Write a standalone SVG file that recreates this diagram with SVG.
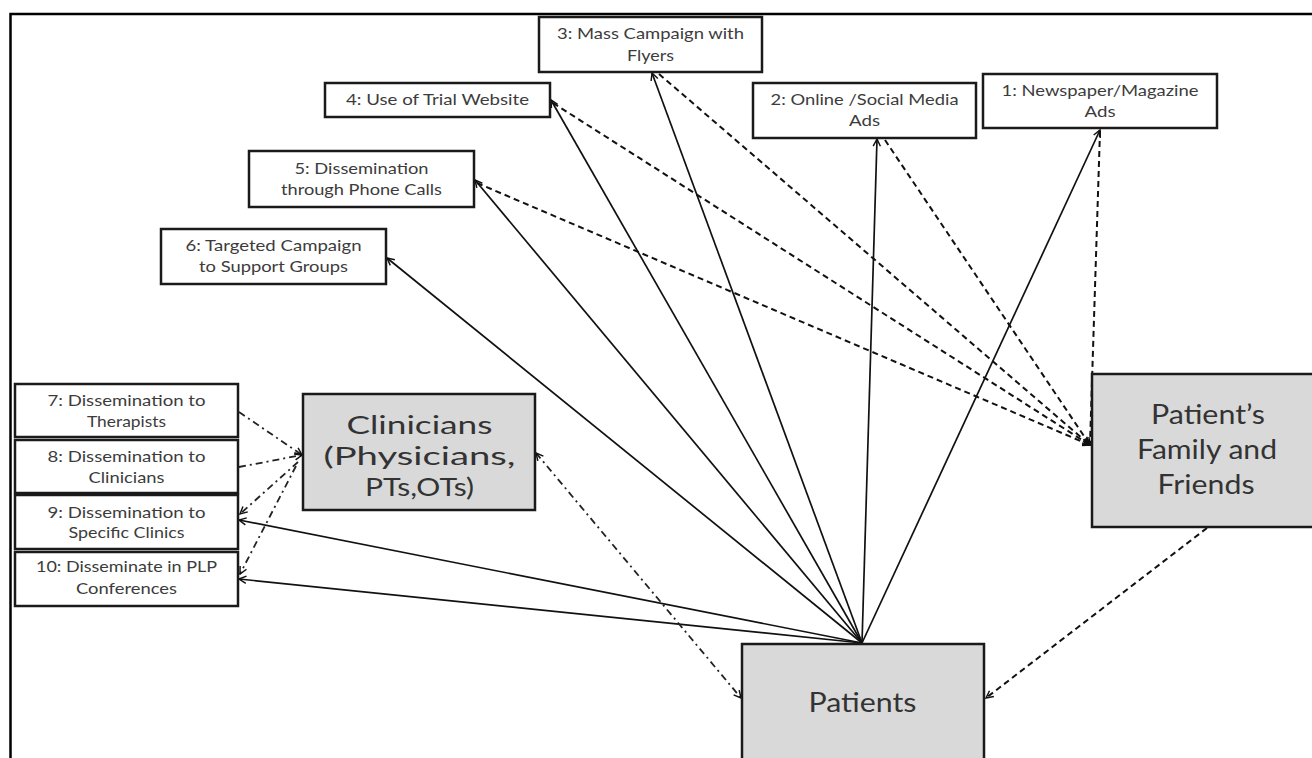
<svg xmlns="http://www.w3.org/2000/svg" width="1312" height="758" viewBox="0 0 1312 758">
<defs>
<style>
.frame{fill:none;stroke:#000;stroke-width:2.5}
.box{fill:#fff;stroke:#1a1a1a;stroke-width:2.5}
.gbox{fill:#d9d9d9;stroke:#1a1a1a;stroke-width:2.5}
.t{font-family:Lato,"Open Sans","Liberation Sans",sans-serif;font-size:16px;fill:#3c3c3c;text-anchor:middle}
.T{font-family:Lato,"Open Sans","Liberation Sans",sans-serif;font-size:27px;fill:#333;text-anchor:middle}
.Tc{font-size:25.5px}
.solid{fill:none;stroke:#111;stroke-width:1.7}
.dash{fill:none;stroke:#111;stroke-width:2;stroke-dasharray:6 4}
.dd{fill:none;stroke:#222;stroke-width:1.8;stroke-dasharray:7 4 2 4}
</style>
<marker id="ah" viewBox="0 0 10 10" refX="9" refY="5" markerWidth="9" markerHeight="9" markerUnits="userSpaceOnUse" orient="auto-start-reverse">
<path d="M1,1 L9,5 L1,9" fill="none" stroke="#111" stroke-width="1.6"/>
</marker>
</defs>
<rect class="frame" x="10.5" y="14" width="1320" height="780"/>

<g id="connectors">
<line class="solid" x1="862" y1="643" x2="1100" y2="130" marker-end="url(#ah)"/>
<line class="solid" x1="862" y1="643" x2="877" y2="139" marker-end="url(#ah)"/>
<line class="solid" x1="862" y1="643" x2="652" y2="73" marker-end="url(#ah)"/>
<line class="solid" x1="862" y1="643" x2="551" y2="100" marker-end="url(#ah)"/>
<line class="solid" x1="862" y1="643" x2="475" y2="180" marker-end="url(#ah)"/>
<line class="solid" x1="862" y1="643" x2="387" y2="258" marker-end="url(#ah)"/>
<line class="solid" x1="862" y1="643" x2="239" y2="520" marker-end="url(#ah)"/>
<line class="solid" x1="862" y1="643" x2="239" y2="579" marker-end="url(#ah)"/>
<line class="dash" x1="1100" y1="131" x2="1090" y2="444" marker-end="url(#ah)"/>
<line class="dash" x1="885" y1="140" x2="1090" y2="445" marker-end="url(#ah)"/>
<line class="dash" x1="659" y1="74" x2="1090" y2="445" marker-end="url(#ah)"/>
<line class="dash" x1="553" y1="103" x2="1090" y2="445" marker-end="url(#ah)"/>
<line class="dash" x1="477" y1="183" x2="1090" y2="445" marker-end="url(#ah)"/>
<line class="dash" x1="1207" y1="528" x2="986" y2="698" marker-end="url(#ah)"/>
<line class="dd" x1="536" y1="453" x2="741" y2="698" marker-start="url(#ah)" marker-end="url(#ah)"/>
<line class="dd" x1="239" y1="412" x2="302" y2="455" marker-end="url(#ah)"/>
<line class="dd" x1="239" y1="467" x2="302" y2="455" marker-end="url(#ah)"/>
<line class="dd" x1="298" y1="462" x2="240" y2="514" marker-end="url(#ah)"/>
<line class="dd" x1="296" y1="466" x2="240" y2="574" marker-end="url(#ah)"/>
</g>

<g id="n1">
<rect class="box" x="983" y="74" width="234" height="54"/>
<text class="t" x="1100" y="96" textLength="197" lengthAdjust="spacingAndGlyphs">1: Newspaper/Magazine</text>
<text class="t" x="1100" y="117" textLength="31" lengthAdjust="spacingAndGlyphs">Ads</text>
</g>
<g id="n2">
<rect class="box" x="753" y="83" width="223" height="55"/>
<text class="t" x="864.5" y="105" textLength="188" lengthAdjust="spacingAndGlyphs">2: Online /Social Media</text>
<text class="t" x="864.5" y="126" textLength="31" lengthAdjust="spacingAndGlyphs">Ads</text>
</g>
<g id="n3">
<rect class="box" x="539" y="17" width="223" height="55"/>
<text class="t" x="650.5" y="39" textLength="187" lengthAdjust="spacingAndGlyphs">3: Mass Campaign with</text>
<text class="t" x="650.5" y="61" textLength="47" lengthAdjust="spacingAndGlyphs">Flyers</text>
</g>
<g id="n4">
<rect class="box" x="325" y="83" width="225" height="34"/>
<text class="t" x="437.5" y="105" textLength="183" lengthAdjust="spacingAndGlyphs">4: Use of Trial Website</text>
</g>
<g id="n5">
<rect class="box" x="249" y="151" width="225" height="56"/>
<text class="t" x="361.5" y="174" textLength="134" lengthAdjust="spacingAndGlyphs">5: Dissemination</text>
<text class="t" x="361.5" y="195" textLength="161" lengthAdjust="spacingAndGlyphs">through Phone Calls</text>
</g>
<g id="n6">
<rect class="box" x="161" y="229" width="225" height="55"/>
<text class="t" x="273.5" y="251" textLength="176" lengthAdjust="spacingAndGlyphs">6: Targeted Campaign</text>
<text class="t" x="273.5" y="272" textLength="149" lengthAdjust="spacingAndGlyphs">to Support Groups</text>
</g>
<g id="n7">
<rect class="box" x="15" y="384" width="223" height="53"/>
<text class="t" x="126.5" y="406" textLength="158" lengthAdjust="spacingAndGlyphs">7: Dissemination to</text>
<text class="t" x="126.5" y="427" textLength="79" lengthAdjust="spacingAndGlyphs">Therapists</text>
</g>
<g id="n8">
<rect class="box" x="15" y="440" width="223" height="53"/>
<text class="t" x="126.5" y="462" textLength="158" lengthAdjust="spacingAndGlyphs">8: Dissemination to</text>
<text class="t" x="126.5" y="483" textLength="76" lengthAdjust="spacingAndGlyphs">Clinicians</text>
</g>
<g id="n9">
<rect class="box" x="15" y="495" width="223" height="54"/>
<text class="t" x="126.5" y="518" textLength="158" lengthAdjust="spacingAndGlyphs">9: Dissemination to</text>
<text class="t" x="126.5" y="538" textLength="116" lengthAdjust="spacingAndGlyphs">Specific Clinics</text>
</g>
<g id="n10">
<rect class="box" x="15" y="552" width="223" height="54"/>
<text class="t" x="126.5" y="572" textLength="181" lengthAdjust="spacingAndGlyphs">10: Disseminate in PLP</text>
<text class="t" x="126.5" y="594" textLength="101" lengthAdjust="spacingAndGlyphs">Conferences</text>
</g>
<g id="clinicians">
<rect class="gbox" x="303" y="394" width="232" height="116"/>
<text class="T Tc" x="419.5" y="434" textLength="146" lengthAdjust="spacingAndGlyphs">Clinicians</text>
<text class="T Tc" x="419.5" y="465" textLength="192" lengthAdjust="spacingAndGlyphs">(Physicians,</text>
<text class="T Tc" x="419.5" y="496" textLength="109" lengthAdjust="spacingAndGlyphs">PTs,OTs)</text>
</g>
<g id="family">
<rect class="gbox" x="1092" y="374" width="232" height="153"/>
<text class="T" x="1208" y="424" textLength="114" lengthAdjust="spacingAndGlyphs">Patient’s</text>
<text class="T" x="1207" y="459" textLength="140" lengthAdjust="spacingAndGlyphs">Family and</text>
<text class="T" x="1206" y="494" textLength="97" lengthAdjust="spacingAndGlyphs">Friends</text>
</g>
<g id="patients">
<rect class="gbox" x="742" y="644" width="242" height="130"/>
<text class="T" x="862.5" y="712" textLength="108" lengthAdjust="spacingAndGlyphs">Patients</text>
</g>
</svg>
